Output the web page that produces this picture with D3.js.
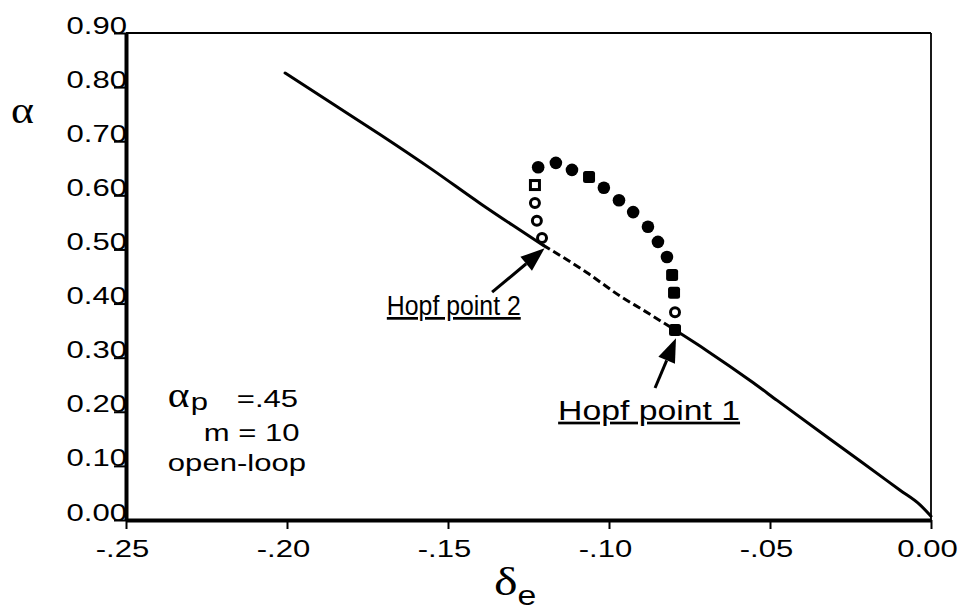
<!DOCTYPE html>
<html>
<head>
<meta charset="utf-8">
<script src="https://cdn.jsdelivr.net/npm/d3@7"></script>
<style>
  html, body { margin: 0; padding: 0; background: #fff; }
  svg { display: block; }
  text { fill: #000; }
</style>
</head>
<body>
<svg id="chart" width="959" height="611"></svg>
<script>
// Axis ticks and their printed labels
const xTicks = [-0.25, -0.20, -0.15, -0.10, -0.05, 0.00];
const xTickLabels = ["-.25", "-.20", "-.15", "-.10", "-.05", "0.00"];
const yTicks = [0.00, 0.10, 0.20, 0.30, 0.40, 0.50, 0.60, 0.70, 0.80, 0.90];
const yTickLabels = ["0.00", "0.10", "0.20", "0.30", "0.40", "0.50", "0.60", "0.70", "0.80", "0.90"];

// Equilibrium branch: stable (solid) above Hopf point 2
const stableUpper = [
  [-0.2006, 0.826], [-0.185, 0.766], [-0.171, 0.712], [-0.155, 0.648],
  [-0.140, 0.585], [-0.130, 0.545], [-0.1205, 0.508]
];
// Unstable segment between the two Hopf points (dashed)
const unstableMid = [
  [-0.1205, 0.508], [-0.1068, 0.457], [-0.0966, 0.414], [-0.0894, 0.388], [-0.0795, 0.351]
];
// Stable branch below Hopf point 1
const stableLower = [
  [-0.0795, 0.351], [-0.0696, 0.313], [-0.0553, 0.254], [-0.0478, 0.221],
  [-0.022, 0.109], [-0.0096, 0.055], [-0.0034, 0.028], [0.000, 0.007]
];

// Periodic-orbit amplitude: o = open circle, s = open square, f = filled circle, F = filled square
const orbitX = [-0.1208, -0.1224, -0.1230, -0.1230, -0.1220, -0.1165, -0.1115, -0.1062, -0.1016,
                -0.0969, -0.0925, -0.0879, -0.0848, -0.0820, -0.0804, -0.0798, -0.0795, -0.0795];
const orbitY = [0.521, 0.553, 0.586, 0.619, 0.652, 0.660, 0.647, 0.634, 0.614,
                0.591, 0.569, 0.542, 0.514, 0.486, 0.453, 0.420, 0.384, 0.351];
const orbitType = ["o", "o", "o", "s", "f", "f", "f", "F", "f",
                   "f", "f", "f", "f", "f", "F", "F", "o", "F"];

// Hopf point annotations: label anchor, arrow tail and arrow tip (data units)
const hopfLabels = ["Hopf point 2", "Hopf point 1"];
const hopfLabelPos = [[-0.1690, 0.379], [-0.1158, 0.185]];
const hopfArrowFrom = [[-0.1363, 0.421], [-0.0857, 0.244]];
const hopfArrowTo = [[-0.1200, 0.502], [-0.0792, 0.336]];

const svg = d3.select("#chart");
const x = d3.scaleLinear().domain([-0.25, 0]).range([126, 931]);
const y = d3.scaleLinear().domain([0, 0.9]).range([520, 33]);

const SX = 1.35; // horizontal stretch of the lettering
const SANS = "'Liberation Sans', Arial, sans-serif";
const SERIF = "'Liberation Serif', 'Times New Roman', serif";

// Frame (top and right edges)
svg.append("line").attr("x1", x(-0.25)).attr("x2", x(0)).attr("y1", y(0.9)).attr("y2", y(0.9))
  .attr("stroke", "#000").attr("stroke-width", 1.8);
svg.append("line").attr("x1", x(0)).attr("x2", x(0)).attr("y1", y(0.9)).attr("y2", y(0))
  .attr("stroke", "#000").attr("stroke-width", 1.8);

// Left axis
const gy = svg.append("g").attr("transform", `translate(${x(-0.25)},0)`)
  .call(d3.axisLeft(y).tickValues(yTicks).tickSize(12).tickSizeOuter(0)
    .tickFormat((d, i) => yTickLabels[i]));
gy.select(".domain").attr("stroke-width", 4);
gy.selectAll(".tick line").attr("stroke-width", 2);
gy.selectAll(".tick text")
  .attr("x", null).attr("dy", null)
  .attr("text-anchor", "end")
  .attr("transform", `translate(1,0) scale(${SX},1)`)
  .style("font-family", SANS)
  .style("font-size", "23px");

// Bottom axis
const gx = svg.append("g").attr("transform", `translate(0,${y(0)})`)
  .call(d3.axisBottom(x).tickValues(xTicks).tickSize(9).tickSizeOuter(0)
    .tickFormat((d, i) => xTickLabels[i]));
gx.select(".domain").attr("stroke-width", 4);
gx.selectAll(".tick line").attr("stroke-width", 2);
gx.selectAll(".tick text")
  .attr("y", null).attr("dy", null)
  .attr("text-anchor", "middle")
  .attr("transform", `translate(-4,37) scale(${SX},1)`)
  .style("font-family", SANS)
  .style("font-size", "23px");

// Axis titles
svg.append("text")
  .attr("transform", `translate(11,123) scale(1.15,1)`)
  .style("font-family", SERIF)
  .style("font-size", "38px").text("α");
const xt = svg.append("text")
  .attr("transform", `translate(494,595) scale(1.25,1)`)
  .style("font-family", SERIF)
  .style("font-size", "40px");
xt.append("tspan").text("δ");
xt.append("tspan").attr("dy", 10)
  .style("font-family", SANS)
  .style("font-size", "27px").text("e");

// Branch curves
const line = d3.line().x(d => x(d[0])).y(d => y(d[1])).curve(d3.curveMonotoneX);
svg.append("path").datum(stableUpper).attr("d", line)
  .attr("fill", "none").attr("stroke", "#000").attr("stroke-width", 3).attr("stroke-linecap", "round");
svg.append("path").datum(unstableMid).attr("d", line)
  .attr("fill", "none").attr("stroke", "#000").attr("stroke-width", 3).attr("stroke-dasharray", "8,4");
svg.append("path").datum(stableLower).attr("d", line)
  .attr("fill", "none").attr("stroke", "#000").attr("stroke-width", 3).attr("stroke-linecap", "round");

// Periodic-orbit markers
const orbit = orbitX.map((v, i) => ({ x: v, y: orbitY[i], t: orbitType[i] }));
const mk = svg.append("g");
orbit.forEach(d => {
  const cx = x(d.x), cy = y(d.y);
  if (d.t === "f") {
    mk.append("circle").attr("cx", cx).attr("cy", cy).attr("r", 6.3).attr("fill", "#000");
  } else if (d.t === "F") {
    mk.append("rect").attr("x", cx - 6).attr("y", cy - 6).attr("width", 12).attr("height", 12)
      .attr("rx", 2.5).attr("fill", "#000");
  } else if (d.t === "o") {
    mk.append("circle").attr("cx", cx).attr("cy", cy).attr("r", 4.5)
      .attr("fill", "#fff").attr("stroke", "#000").attr("stroke-width", 3);
  } else {
    mk.append("rect").attr("x", cx - 4.5).attr("y", cy - 4.5).attr("width", 9).attr("height", 9)
      .attr("fill", "#fff").attr("stroke", "#000").attr("stroke-width", 3);
  }
});

// Hopf point arrows and labels
const hopfSize = [27, 27];
const hopfStretch = [0.92, 1.25];
hopfLabels.forEach((lab, i) => {
  const [x0, y0] = [x(hopfArrowFrom[i][0]), y(hopfArrowFrom[i][1])];
  const [x1, y1] = [x(hopfArrowTo[i][0]), y(hopfArrowTo[i][1])];
  const ang = Math.atan2(y1 - y0, x1 - x0);
  const hl = 24, hw = 9;
  const bx = x1 - hl * Math.cos(ang), by = y1 - hl * Math.sin(ang);
  svg.append("line").attr("x1", x0).attr("y1", y0).attr("x2", bx).attr("y2", by)
    .attr("stroke", "#000").attr("stroke-width", 3);
  svg.append("polygon")
    .attr("points", [
      [x1, y1],
      [bx + hw * Math.sin(ang), by - hw * Math.cos(ang)],
      [bx - hw * Math.sin(ang), by + hw * Math.cos(ang)]
    ].map(p => p.join(",")).join(" "))
    .attr("fill", "#000");
  svg.append("text")
    .attr("transform", `translate(${x(hopfLabelPos[i][0])},${y(hopfLabelPos[i][1])}) scale(${hopfStretch[i]},1)`)
    .style("font-family", SANS)
    .style("font-size", hopfSize[i] + "px")
    .style("text-decoration", "underline")
    .attr("xml:space", "preserve")
    .text(lab);
});

// Parameter annotation
const ann = svg.append("g").attr("transform", `translate(${x(-0.237)},0)`);
ann.append("text").attr("transform", `translate(0,407) scale(1.15,1)`)
  .style("font-family", SERIF)
  .style("font-size", "36px").text("α");
ann.append("text").attr("transform", `translate(23,410) scale(${SX},1)`)
  .style("font-family", SANS)
  .style("font-size", "23px").text("p");
ann.append("text").attr("transform", `translate(69,407) scale(${SX},1)`)
  .style("font-family", SANS)
  .style("font-size", "23px").text("=.45");
ann.append("text").attr("transform", `translate(36,441) scale(${SX},1)`)
  .style("font-family", SANS)
  .style("font-size", "23px").text("m = 10");
ann.append("text").attr("transform", `translate(0,471) scale(${SX},1)`)
  .style("font-family", SANS)
  .style("font-size", "23px").text("open-loop");
</script>
</body>
</html>
